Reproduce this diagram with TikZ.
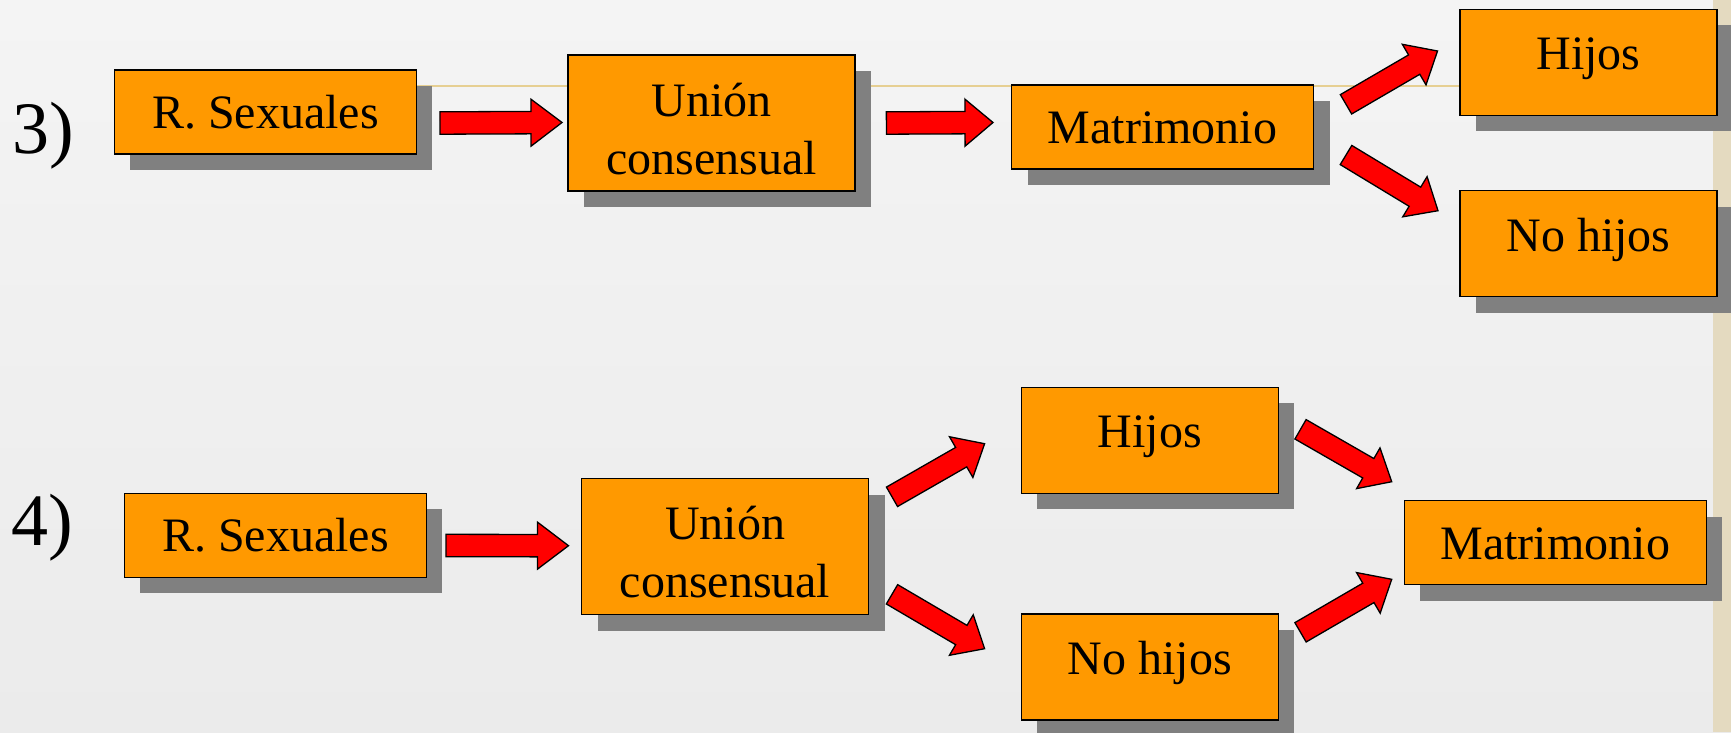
\documentclass[tikz,border=0pt]{standalone}
\usepackage{fontspec}
\setmainfont{Liberation Serif}
\usetikzlibrary{calc,shadows}
\definecolor{boxorange}{HTML}{FF9900}
\definecolor{shadowgray}{HTML}{808080}
\definecolor{arrowred}{HTML}{FF0000}
\definecolor{tanline}{HTML}{E6CF92}
\definecolor{stripbeige}{HTML}{E4DAC0}
\definecolor{bgtop}{HTML}{F4F4F4}
\definecolor{bgbottom}{HTML}{EBEBEB}
% #1 head length, #2 start, #3 tip
\newcommand\blockarrow[3][31pt]{%
  \coordinate (bah) at ($(#3)!#1!(#2)$);
  \draw[blockarr] ($(#2)!11.2pt!-90:(#3)$) -- ($(bah)!11.2pt!-90:(#3)$)
    -- ($(bah)!23.5pt!-90:(#3)$) -- (#3) -- ($(bah)!23.5pt!90:(#3)$)
    -- ($(bah)!11.2pt!90:(#3)$) -- ($(#2)!11.2pt!90:(#3)$) -- cycle;}
\tikzset{
  box/.style={draw=black, line width=1.5pt, fill=boxorange, inner sep=0pt,
    font=\fontsize{48}{57.6}\selectfont,
    general shadow={fill=shadowgray, shadow xshift=16pt, shadow yshift=-16pt}},
  wide/.style={box, minimum width=302pt, minimum height=84pt, text height=33pt, text depth=0pt},
  tall/.style={box, minimum width=257pt, minimum height=106pt, text height=33pt, text depth=18pt},
  ucbox/.style={box, minimum width=287pt, minimum height=136pt, align=center},
  blockarr/.style={fill=arrowred, draw=black, line width=1.3pt, line join=miter},
  numlabel/.style={anchor=base west, inner sep=0pt, font=\fontsize{74}{88}\selectfont}
}
\begin{document}
\begin{tikzpicture}[x=1pt,y=-1pt]
\useasboundingbox (0,0) rectangle (1731,732);
\shade[top color=bgtop, bottom color=bgbottom] (0,0) rectangle (1731,732);
\fill[stripbeige] (1713,0) rectangle (1731,732);
\draw[tanline, line width=2.6pt] (300,86) -- (1713,86);

% labels
\node[numlabel] (l3) at (12,153) {3)};
\node[numlabel] (l4) at (11,545) {4)};

% row 3
\node[wide] (rs3) at (265.4,112.2) {R. Sexuales};
\node[ucbox] (uc3) at (711.5,123) {\rule{0pt}{45pt}Unión\\consensual};
\node[wide] (m3) at (1162.5,127.2) {Matrimonio};
\node[tall] (h3) at (1588.5,62.3) {Hijos};
\node[tall] (nh3) at (1588.5,243.7) {No hijos};

% row 4
\node[wide] (rs4) at (275.4,535.4) {R. Sexuales};
\node[ucbox] (uc4) at (725,546.5) {\rule{0pt}{45pt}Unión\\consensual};
\node[tall] (h4) at (1149.8,440.4) {Hijos};
\node[tall] (nh4) at (1149.8,666.9) {No hijos};
\node[wide] (m4) at (1555.3,542.5) {Matrimonio};

% arrow end points
\coordinate (a1s) at (440,123);    \coordinate (a1e) at (562,122.5);
\coordinate (a2s) at (886.4,123);  \coordinate (a2e) at (993,122.5);
\coordinate (a3s) at (1346,104.3); \coordinate (a3e) at (1437.5,51);
\coordinate (a4s) at (1346,155);   \coordinate (a4e) at (1438,210.7);
\coordinate (a5s) at (446,545.5);  \coordinate (a5e) at (568.5,545.7);
\coordinate (a6s) at (892,496.8);  \coordinate (a6e) at (984.6,443.7);
\coordinate (a7s) at (892,594.3);  \coordinate (a7e) at (984.6,648.7);
\coordinate (a8s) at (1300.5,429.3); \coordinate (a8e) at (1391.7,481.7);
\coordinate (a9s) at (1300.5,632.3); \coordinate (a9e) at (1391.7,579.3);

\blockarrow{a1s}{a1e}
\blockarrow[28pt]{a2s}{a2e}
\blockarrow[27pt]{a3s}{a3e}
\blockarrow[27pt]{a4s}{a4e}
\blockarrow{a5s}{a5e}
\blockarrow[27pt]{a6s}{a6e}
\blockarrow[27pt]{a7s}{a7e}
\blockarrow[27pt]{a8s}{a8e}
\blockarrow[27pt]{a9s}{a9e}
\end{tikzpicture}
\end{document}
